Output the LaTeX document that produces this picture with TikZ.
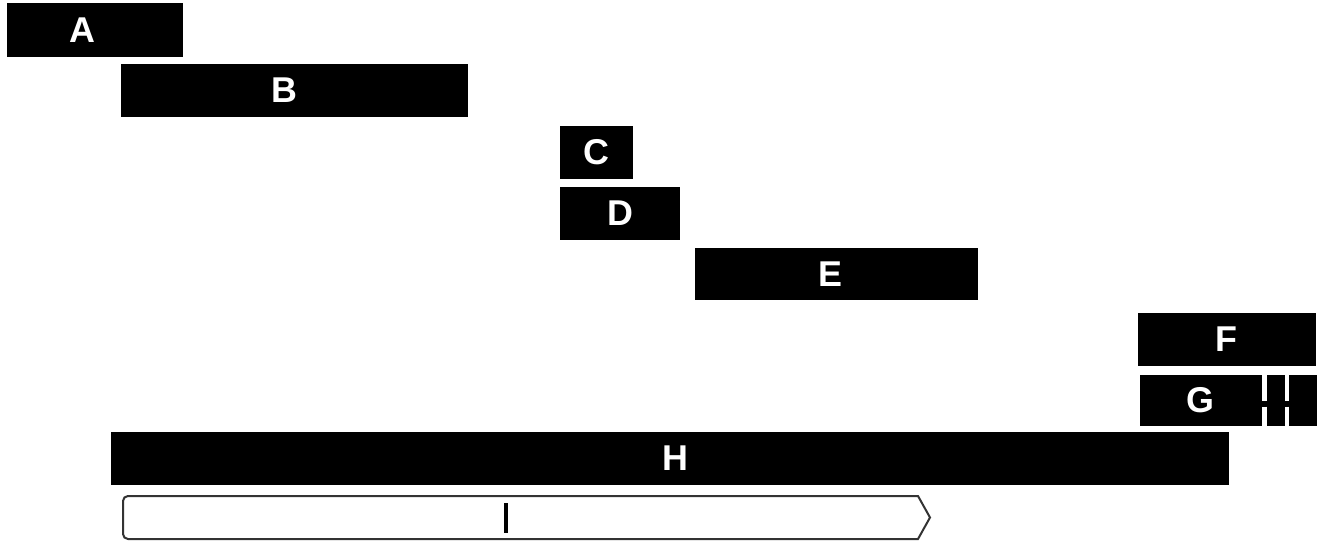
\documentclass[tikz,border=0pt]{standalone}
\usepackage{fontspec}
\setmainfont{Liberation Sans}
\tikzset{
    bartext/.style={text=white,font=\bfseries\fontsize{36}{40}\selectfont,inner sep=0pt},
    gapline/.style={white,line width=4.5bp},
}
\begin{document}
\begin{tikzpicture}[x=1bp,y=-1bp]
        \useasboundingbox (0,0) rectangle (1327,544);
        %% bars
        \foreach \name/\xa/\ya/\xb/\yb/\lx in {A/7/3/183/57/82,B/121/64/468/117/284,C/560/126/633/179/596,D/560/187/680/240/620,E/695/248/978/300/830,F/1138/313/1316/366/1226,G/1140/375/1317/426/1200,H/111/432/1229/485/675} {
            \fill (\xa,\ya) rectangle (\xb,\yb);
            \node[bartext,anchor=center] (\name) at (\lx,{(\ya+\yb)/2}) {\name};
        }
        %% breaks in G
        \foreach \x in {1264.5,1287} {
            \draw[gapline] (\x,375) -- (\x,401) (\x,406.5) -- (\x,426);
        }
        %% bottom arrow
        \draw[line width=2bp,black!80] (918,496) [rounded corners=5] -- (123,496) -- (123,539) [sharp corners] -- (918,539) -- (930,517.5) -- cycle;
        \draw[line width=4bp] (506,503) -- (506,533);
    \end{tikzpicture}
\end{document}
